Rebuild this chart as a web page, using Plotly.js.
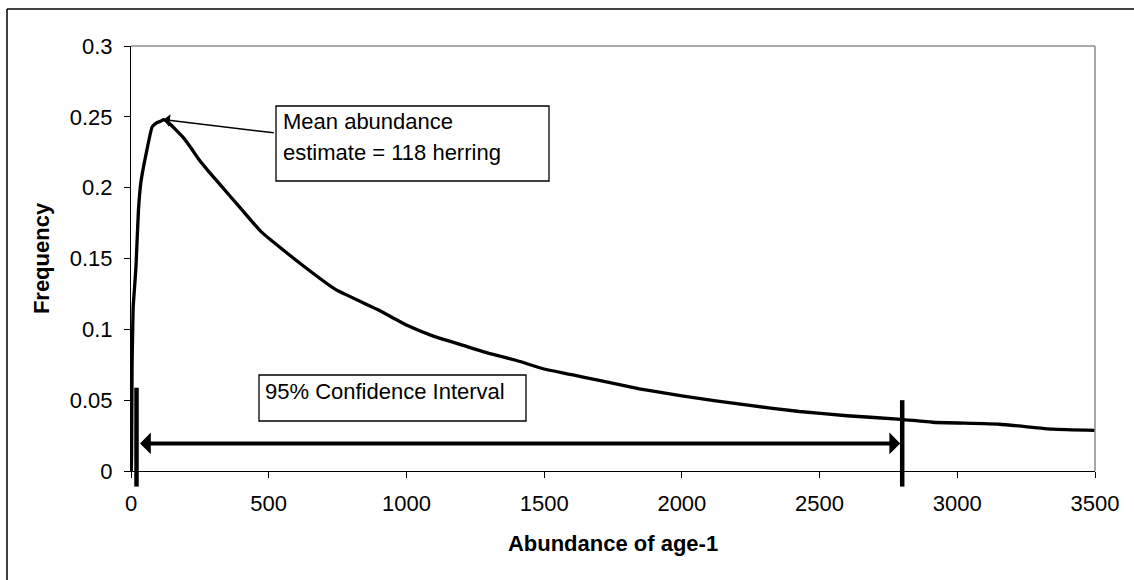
<!DOCTYPE html>
<html>
<head>
<meta charset="utf-8">
<script src="https://cdn.plot.ly/plotly-3.0.1.min.js"></script>
<style>html,body{margin:0;padding:0;background:#fff;}#chart{width:1134px;height:580px;}</style>
</head>
<body>
<div id="chart"></div>
<script>
// ---- data ----
var abundance = [1, 2, 3, 4, 6, 8, 13, 18, 27, 36, 55, 77, 95, 109, 118, 139, 187, 218, 248, 284, 333, 393, 472, 611, 744, 895, 1000, 1100, 1200, 1300, 1400, 1500, 1600, 1700, 1846, 2000, 2233, 2427, 2600, 2796, 2910, 3153, 3346, 3500];
var frequency = [0.0, 0.009, 0.04, 0.076, 0.098, 0.116, 0.13, 0.144, 0.184, 0.204, 0.224, 0.243, 0.246, 0.247, 0.248, 0.2454, 0.236, 0.228, 0.2195, 0.211, 0.2, 0.1866, 0.169, 0.147, 0.128, 0.114, 0.103, 0.095, 0.089, 0.083, 0.078, 0.072, 0.068, 0.064, 0.058, 0.053, 0.0466, 0.042, 0.039, 0.0365, 0.0344, 0.033, 0.0296, 0.0287];
var xTickVals = [0, 500, 1000, 1500, 2000, 2500, 3000, 3500];
var xTickText = ["0", "500", "1000", "1500", "2000", "2500", "3000", "3500"];
var yTickVals = [0, 0.05, 0.1, 0.15, 0.2, 0.25, 0.3];
var yTickText = ["0", "0.05", "0.1", "0.15", "0.2", "0.25", "0.3"];
var meanAbundance = 118;
var meanFrequency = 0.248;
var ciLow = 20;
var ciHigh = 2800;
var ciArrowLevel = 0.0195;
var ciBarTopLow = 0.0588;
var ciBarTopHigh = 0.050;
var ciBarBottom = -0.011;
var meanLabel = ["Mean abundance", "estimate = 118 herring"];
var ciLabel = "95% Confidence Interval";

// ---- layout geometry ----
var W = 1134, H = 580;
var M = {l: 131, r: 39, t: 46, b: 109};
var xRange = [0, 3500], yRange = [0, 0.3];
var pw = W - M.l - M.r, ph = H - M.t - M.b;
function px2x(px) { return (px - M.l) / pw; }          // pixel -> paper x
function py2y(py) { return (H - M.b - py) / ph; }      // pixel -> paper y
function dx2p(v) { return (v - xRange[0]) / (xRange[1] - xRange[0]); }
function dy2p(v) { return (v - yRange[0]) / (yRange[1] - yRange[0]); }

var FONT = "Liberation Sans, Arial, sans-serif";

var trace = {
  x: abundance, y: frequency, type: "scatter", mode: "lines",
  line: {color: "#000", width: 3.3, shape: "spline", smoothing: 0.4}, hoverinfo: "skip", showlegend: false
};

var shapes = [
  // outer chart border (left and top edges visible)
  {type: "line", xref: "paper", yref: "paper", x0: px2x(7), x1: px2x(7), y0: py2y(600), y1: py2y(9),
   line: {color: "#000", width: 1.5}},
  {type: "line", xref: "paper", yref: "paper", x0: px2x(7), x1: px2x(1150), y0: py2y(9), y1: py2y(9),
   line: {color: "#000", width: 1.5}},
  // plot area top/right border (gray)
  {type: "line", xref: "paper", yref: "paper", x0: 0, x1: 1, y0: 1, y1: 1, line: {color: "#8c8c8c", width: 1.5}},
  {type: "line", xref: "paper", yref: "paper", x0: 1, x1: 1, y0: 0, y1: 1, line: {color: "#8c8c8c", width: 1.5}},
  // CI bounds
  {type: "line", xref: "paper", yref: "paper", x0: dx2p(ciLow), x1: dx2p(ciLow), y0: dy2p(ciBarBottom), y1: dy2p(ciBarTopLow),
   line: {color: "#000", width: 4.5}},
  {type: "line", xref: "paper", yref: "paper", x0: dx2p(ciHigh), x1: dx2p(ciHigh), y0: dy2p(ciBarBottom), y1: dy2p(ciBarTopHigh),
   line: {color: "#000", width: 4.5}},
  // text boxes
  {type: "rect", xref: "paper", yref: "paper", x0: px2x(276), x1: px2x(549), y0: py2y(181), y1: py2y(106),
   line: {color: "#000", width: 1.3}, fillcolor: "#fff"},
  {type: "rect", xref: "paper", yref: "paper", x0: px2x(259), x1: px2x(526), y0: py2y(421), y1: py2y(375),
   line: {color: "#000", width: 1.3}, fillcolor: "#fff"}
];

var annotations = [
  // mean arrow
  {x: meanAbundance, y: meanFrequency, xref: "x", yref: "y", ax: 524, ay: 0.2386, axref: "x", ayref: "y",
   text: "", showarrow: true, arrowhead: 1, arrowsize: 1.4, arrowwidth: 1.5, arrowcolor: "#000", standoff: 0},
  // CI double arrow
  {x: ciHigh, y: ciArrowLevel, xref: "x", yref: "y", ax: ciLow, ay: ciArrowLevel, axref: "x", ayref: "y",
   text: "", showarrow: true, arrowside: "end+start", arrowhead: 1, startarrowhead: 1,
   arrowsize: 0.9, startarrowsize: 0.9, arrowwidth: 4, arrowcolor: "#000", standoff: 2, startstandoff: 2},
  {x: px2x(281), y: py2y(121.5), xref: "paper", yref: "paper", xanchor: "left", yanchor: "middle",
   text: meanLabel[0], showarrow: false, font: {family: FONT, size: 22, color: "#000"}},
  {x: px2x(281), y: py2y(152), xref: "paper", yref: "paper", xanchor: "left", yanchor: "middle",
   text: meanLabel[1], showarrow: false, font: {family: FONT, size: 22, color: "#000"}},
  {x: px2x(263), y: py2y(391), xref: "paper", yref: "paper", xanchor: "left", yanchor: "middle",
   text: ciLabel, showarrow: false, font: {family: FONT, size: 22, color: "#000"}}
];

var layout = {
  width: W, height: H,
  margin: M,
  paper_bgcolor: "#fff", plot_bgcolor: "#fff",
  font: {family: FONT, size: 22, color: "#000"},
  showlegend: false,
  xaxis: {
    range: xRange, tickmode: "array", tickvals: xTickVals, ticktext: xTickText,
    showgrid: false, zeroline: false, showline: true, linecolor: "#000", linewidth: 1,
    ticks: "outside", ticklen: 6, tickcolor: "#000", tickwidth: 1, ticklabelstandoff: 7,
    tickfont: {family: FONT, size: 22, color: "#000"},
    title: {text: "<b>Abundance of age-1</b>", font: {family: FONT, size: 22, color: "#000"}, standoff: 20}
  },
  yaxis: {
    range: yRange, tickmode: "array", tickvals: yTickVals, ticktext: yTickText,
    showgrid: false, zeroline: false, showline: true, linecolor: "#000", linewidth: 1,
    ticks: "outside", ticklen: 6, tickcolor: "#000", tickwidth: 1, ticklabelstandoff: 7,
    tickfont: {family: FONT, size: 22, color: "#000"},
    title: {text: "<b>Frequency</b>", font: {family: FONT, size: 22, color: "#000"}, standoff: 14}
  },
  shapes: shapes,
  annotations: annotations
};

Plotly.newPlot("chart", [trace], layout, {displayModeBar: false, staticPlot: true});
</script>
</body>
</html>
